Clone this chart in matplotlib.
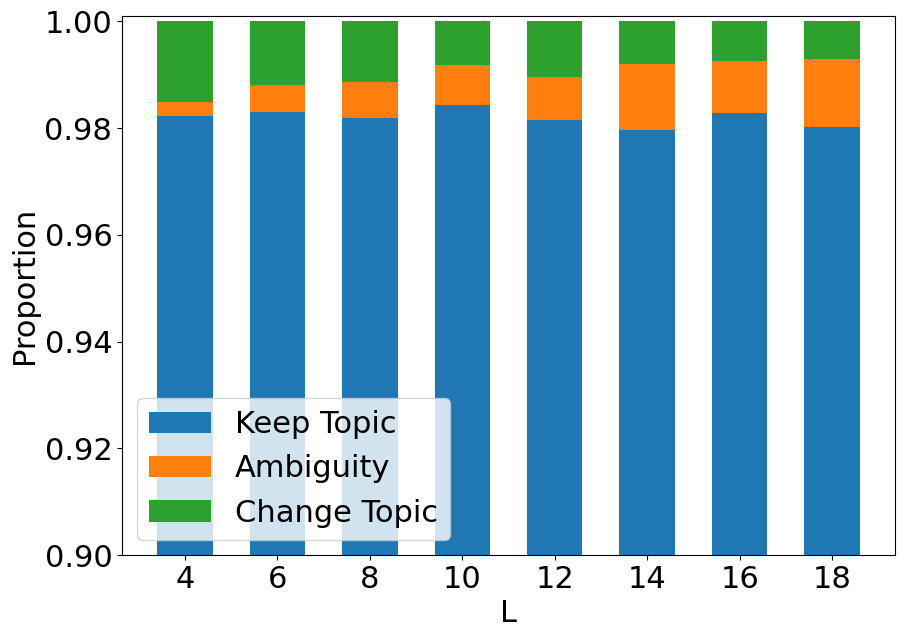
import matplotlib
matplotlib.use("Agg")
import matplotlib.pyplot as plt
import numpy as np

L = [4, 6, 8, 10, 12, 14, 16, 18]
keep = [0.98229, 0.98304, 0.98191, 0.98435, 0.98160, 0.97966, 0.98285, 0.98022]
amb_top = [0.98497, 0.98810, 0.98866, 0.99185, 0.98960, 0.99203, 0.99260, 0.99297]
ambiguity = [a - k for a, k in zip(amb_top, keep)]
change = [1.0 - a for a in amb_top]

plt.rcParams['font.size'] = 22
fig = plt.figure(figsize=(9.07, 6.38), dpi=100)
ax = fig.add_axes([0.1345, 0.130, 0.8523, 0.845])
keep_a = np.array(keep)
amb_a = np.array(ambiguity)
ax.bar(L, keep_a, width=1.2, label='Keep Topic', color='#1f77b4')
ax.bar(L, amb_a, width=1.2, bottom=keep_a, label='Ambiguity', color='#ff7f0e')
ax.bar(L, change, width=1.2, bottom=keep_a + amb_a, label='Change Topic', color='#2ca02c')
ax.set_ylim(0.90, 1.001)
ax.set_xticks(L)
ax.set_yticks([0.90, 0.92, 0.94, 0.96, 0.98, 1.00])
ax.set_xlabel('L')
ax.set_ylabel('Proportion')
ax.legend(loc='lower left')
fig.savefig('out.png', dpi=100)
